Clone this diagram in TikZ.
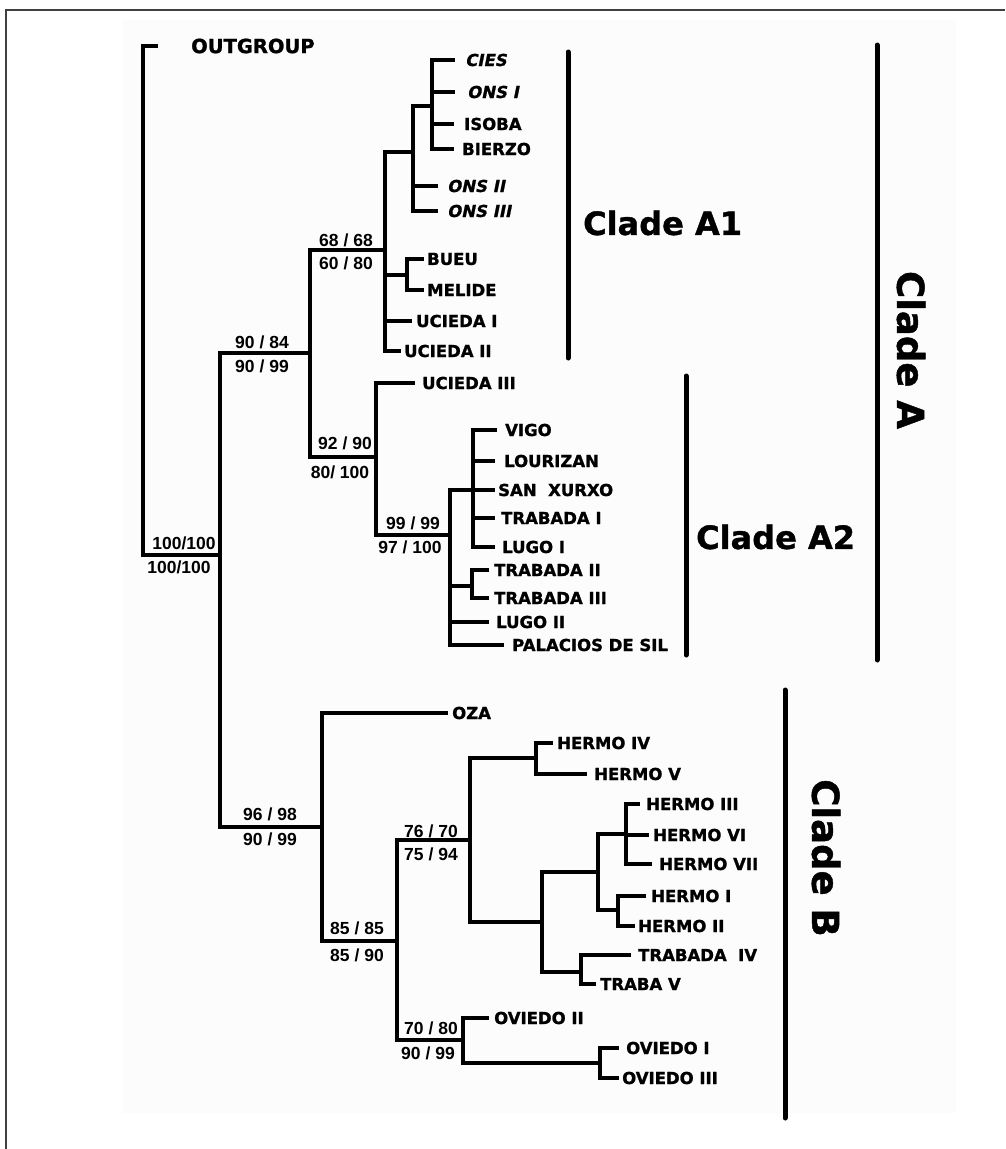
\documentclass[tikz,border=0pt]{standalone}
\usepackage{fontspec}
\newfontfamily\dvs{DejaVu Sans}[BoldFeatures={FakeBold=1.2}]
\newfontfamily\dvsbi{DejaVu Sans}[FakeSlant=0.2,BoldFeatures={FakeBold=1.2,FakeSlant=0.2}]
\newfontfamily\lib{Liberation Sans}
\begin{document}
\begin{tikzpicture}[x=1pt,y=-1pt,
  br/.style={line width=3.8pt,line cap=rect,line join=miter},
  bar/.style={line width=5pt,line cap=round},
  leaf/.style={anchor=west,inner sep=0pt,font=\dvs\bfseries\fontsize{16.5}{18}\selectfont},
  ileaf/.style={leaf,font=\dvsbi\bfseries\fontsize{16.5}{18}\selectfont},
  sup/.style={inner sep=0pt,font=\lib\bfseries\fontsize{17.5}{19}\selectfont},
  clade/.style={inner sep=0pt,font=\dvs\bfseries\fontsize{32}{36}\selectfont},
  bigclade/.style={inner sep=0pt,font=\dvs\bfseries\fontsize{37}{40}\selectfont}]
\useasboundingbox (0,0) rectangle (1005,1149);
\fill[white] (0,0) rectangle (1005,1149);
\fill[black!1] (122,20) rectangle (956,1113);
\draw[line width=1.6pt,black!75] (6,1149) -- (6,10) -- (1005,10);

% internal nodes
\coordinate (root) at (143,555);
\coordinate (nAB) at (220,555);
\coordinate (nA) at (310,353);
\coordinate (nA1) at (385,250);
\coordinate (n1a) at (413,152);
\coordinate (n1c) at (432,106);
\coordinate (n1b) at (407,275);
\coordinate (nA2) at (376,457);
\coordinate (n2a) at (450,535);
\coordinate (n2b) at (473,490);
\coordinate (n2c) at (472,586);
\coordinate (nB) at (322,827);
\coordinate (nB1) at (397,941);
\coordinate (nB2) at (470,840);
\coordinate (nH1) at (536,758);
\coordinate (nH2) at (542,922);
\coordinate (nH3) at (598,872);
\coordinate (nH4) at (626,834);
\coordinate (nH5) at (618,910);
\coordinate (nT) at (581,972);
\coordinate (nB3) at (463,1040);
\coordinate (nO) at (600,1063);

% leaf ends
\coordinate (og) at (156,46);
\coordinate (cies) at (453,60);
\coordinate (ons1) at (453,92);
\coordinate (isoba) at (452,124);
\coordinate (bierzo) at (452,149);
\coordinate (ons2) at (436,186);
\coordinate (ons3) at (436,211);
\coordinate (bueu) at (422,259);
\coordinate (melide) at (422,290);
\coordinate (uc1) at (410,321);
\coordinate (uc2) at (399,351);
\coordinate (uc3) at (413,383);
\coordinate (vigo) at (495,430);
\coordinate (lour) at (493,461);
\coordinate (sanx) at (493,490);
\coordinate (trab1) at (493,518);
\coordinate (lugo1) at (493,547);
\coordinate (trab2) at (487,570);
\coordinate (trab3) at (487,598);
\coordinate (lugo2) at (487,622);
\coordinate (pal) at (502,645);
\coordinate (oza) at (446,713);
\coordinate (h4) at (551,743);
\coordinate (h5) at (585,774);
\coordinate (h3) at (638,804);
\coordinate (h6) at (647,835);
\coordinate (h7) at (650,864);
\coordinate (h1) at (644,896);
\coordinate (h2) at (633,926);
\coordinate (trab4) at (629,955);
\coordinate (trab5) at (594,984);
\coordinate (ov2) at (487,1018);
\coordinate (ov1) at (617,1048);
\coordinate (ov3) at (617,1078);

% branches
\draw[br] (root) |- (og);
\draw[br] (root) |- (nAB);
\draw[br] (nAB) |- (nA);
\draw[br] (nAB) |- (nB);
\draw[br] (nA) |- (nA1);
\draw[br] (nA) |- (nA2);
\draw[br] (nA1) |- (n1a);
\draw[br] (nA1) |- (n1b);
\draw[br] (nA1) |- (uc1);
\draw[br] (nA1) |- (uc2);
\draw[br] (n1a) |- (n1c);
\draw[br] (n1a) |- (ons2);
\draw[br] (n1a) |- (ons3);
\draw[br] (n1c) |- (cies);
\draw[br] (n1c) |- (ons1);
\draw[br] (n1c) |- (isoba);
\draw[br] (n1c) |- (bierzo);
\draw[br] (n1b) |- (bueu);
\draw[br] (n1b) |- (melide);
\draw[br] (nA2) |- (uc3);
\draw[br] (nA2) |- (n2a);
\draw[br] (n2a) |- (n2b);
\draw[br] (n2a) |- (n2c);
\draw[br] (n2a) |- (lugo2);
\draw[br] (n2a) |- (pal);
\draw[br] (n2b) |- (vigo);
\draw[br] (n2b) |- (lour);
\draw[br] (n2b) |- (sanx);
\draw[br] (n2b) |- (trab1);
\draw[br] (n2b) |- (lugo1);
\draw[br] (n2c) |- (trab2);
\draw[br] (n2c) |- (trab3);
\draw[br] (nB) |- (oza);
\draw[br] (nB) |- (nB1);
\draw[br] (nB1) |- (nB2);
\draw[br] (nB1) |- (nB3);
\draw[br] (nB2) |- (nH1);
\draw[br] (nB2) |- (nH2);
\draw[br] (nH1) |- (h4);
\draw[br] (nH1) |- (h5);
\draw[br] (nH2) |- (nH3);
\draw[br] (nH2) |- (nT);
\draw[br] (nH3) |- (nH4);
\draw[br] (nH3) |- (nH5);
\draw[br] (nH4) |- (h3);
\draw[br] (nH4) |- (h6);
\draw[br] (nH4) |- (h7);
\draw[br] (nH5) |- (h1);
\draw[br] (nH5) |- (h2);
\draw[br] (nT) |- (trab4);
\draw[br] (nT) |- (trab5);
\draw[br] (nB3) |- (ov2);
\draw[br] (nB3) |- (nO);
\draw[br] (nO) |- (ov1);
\draw[br] (nO) |- (ov3);

% leaf labels
\node[leaf,font=\dvs\bfseries\fontsize{19.5}{21}\selectfont] (tog) at (191,46) {OUTGROUP};
\node[ileaf] (tcies) at (465,60) {CIES};
\node[ileaf] (tons1) at (467,92) {ONS I};
\node[leaf] (tisoba) at (464,124) {ISOBA};
\node[leaf] (tbierzo) at (462,149) {BIERZO};
\node[ileaf] (tons2) at (447,186) {ONS II};
\node[ileaf] (tons3) at (447,211) {ONS III};
\node[leaf] (tbueu) at (427,259) {BUEU};
\node[leaf] (tmelide) at (427,290) {MELIDE};
\node[leaf] (tuc1) at (416,321) {UCIEDA I};
\node[leaf] (tuc2) at (404,351) {UCIEDA II};
\node[leaf] (tuc3) at (422,383) {UCIEDA III};
\node[leaf] (tvigo) at (505,430) {VIGO};
\node[leaf] (tlour) at (504,461) {LOURIZAN};
\node[leaf] (tsanx) at (498,490) {SAN\ \ XURXO};
\node[leaf] (ttrab1) at (501,518) {TRABADA I};
\node[leaf] (tlugo1) at (502,547) {LUGO I};
\node[leaf] (ttrab2) at (494,570) {TRABADA II};
\node[leaf] (ttrab3) at (494,598) {TRABADA III};
\node[leaf] (tlugo2) at (496,622) {LUGO II};
\node[leaf] (tpal) at (512,645) {PALACIOS DE SIL};
\node[leaf] (toza) at (452,713) {OZA};
\node[leaf] (th4) at (557,743) {HERMO IV};
\node[leaf] (th5) at (594,774) {HERMO V};
\node[leaf] (th3) at (646,804) {HERMO III};
\node[leaf] (th6) at (653,835) {HERMO VI};
\node[leaf] (th7) at (659,864) {HERMO VII};
\node[leaf] (th1) at (651,896) {HERMO I};
\node[leaf] (th2) at (638,926) {HERMO II};
\node[leaf] (ttrab4) at (638,955) {TRABADA\ \ IV};
\node[leaf] (ttrab5) at (600,984) {TRABA V};
\node[leaf] (tov2) at (494,1018) {OVIEDO II};
\node[leaf] (tov1) at (626,1048) {OVIEDO I};
\node[leaf] (tov3) at (622,1078) {OVIEDO III};

% support values
\node[sup] (s1a) at (184,543) {100/100};
\node[sup] (s1b) at (179,567) {100/100};
\node[sup] (s2a) at (262,342) {90 / 84};
\node[sup] (s2b) at (262,366) {90 / 99};
\node[sup] (s3a) at (346,240) {68 / 68};
\node[sup] (s3b) at (346,263) {60 / 80};
\node[sup] (s4a) at (345,443) {92 / 90};
\node[sup] (s4b) at (340,472) {80/ 100};
\node[sup] (s5a) at (413,523) {99 / 99};
\node[sup] (s5b) at (410,547) {97 / 100};
\node[sup] (s6a) at (270,814) {96 / 98};
\node[sup] (s6b) at (270,839) {90 / 99};
\node[sup] (s7a) at (357,928) {85 / 85};
\node[sup] (s7b) at (357,955) {85 / 90};
\node[sup] (s8a) at (431,831) {76 / 70};
\node[sup] (s8b) at (431,854) {75 / 94};
\node[sup] (s9a) at (431,1028) {70 / 80};
\node[sup] (s9b) at (428,1053) {90 / 99};

% clade bars and labels
\coordinate (a1t) at (568,52);
\coordinate (a1b) at (568,358);
\coordinate (a2t) at (686,376);
\coordinate (a2b) at (686,655);
\coordinate (at) at (877,45);
\coordinate (ab) at (877,660);
\coordinate (bt) at (785,690);
\coordinate (bb) at (785,1118);
\draw[bar] (a1t) -- (a1b);
\draw[bar] (a2t) -- (a2b);
\draw[bar] (at) -- (ab);
\draw[bar] (bt) -- (bb);
\node[clade,anchor=west] (la1) at (583,223) {Clade A1};
\node[clade,anchor=west] (la2) at (696,537) {Clade A2};
\node[bigclade,rotate=-90] (la) at (911,350) {Clade A};
\node[bigclade,rotate=-90] (lb) at (826,858) {Clade B};
\end{tikzpicture}
\end{document}
